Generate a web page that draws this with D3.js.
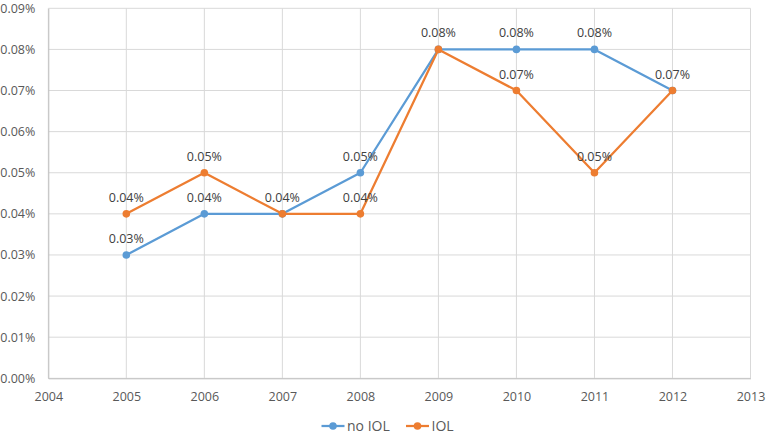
<!DOCTYPE html>
<html><head><meta charset="utf-8">
<script src="https://cdn.jsdelivr.net/npm/d3@7"></script>
<style>body{margin:0;background:#fff;} text{font-family:"Open Sans",sans-serif;}</style>
</head><body><svg id="c" width="767" height="436"></svg>
<script>
const years = [2005, 2006, 2007, 2008, 2009, 2010, 2011, 2012];
const noIOL = [0.0003, 0.0004, 0.0004, 0.0005, 0.0008, 0.0008, 0.0008, 0.0007];
const IOL = [0.0004, 0.0005, 0.0004, 0.0004, 0.0008, 0.0007, 0.0005, 0.0007];
const xTicks = [2004, 2005, 2006, 2007, 2008, 2009, 2010, 2011, 2012, 2013];
const yTicks = [0, 0.0001, 0.0002, 0.0003, 0.0004, 0.0005, 0.0006, 0.0007, 0.0008, 0.0009];
const seriesNames = ["no IOL", "IOL"];
const colors = ["#5B9BD5", "#ED7D31"];

const svg = d3.select("#c");
const L = 48.3, R = 750.5, T = 8.3, B = 378.3;
const x = d3.scaleLinear().domain([2004, 2013]).range([L, R]);
const y = d3.scaleLinear().domain([0, 0.0009]).range([B, T]);
const fmt = d3.format(".2%");
const FS = "12.5px";

// gridlines
svg.append("g").selectAll("line").data(yTicks).join("line")
  .attr("x1", L).attr("x2", R).attr("y1", d => y(d)).attr("y2", d => y(d))
  .attr("stroke", "#D9D9D9").attr("stroke-width", 1);
svg.append("g").selectAll("line").data(xTicks).join("line")
  .attr("y1", T).attr("y2", B).attr("x1", d => x(d)).attr("x2", d => x(d))
  .attr("stroke", "#D9D9D9").attr("stroke-width", 1);

// axes
const yAxis = d3.axisLeft(y).tickValues(yTicks).tickFormat(fmt).tickSize(0).tickPadding(13);
const gy = svg.append("g").attr("transform", `translate(${L},0)`).call(yAxis);
gy.select(".domain").attr("stroke", "#BFBFBF");
gy.selectAll("text").attr("fill", "#595959").style("font-size", FS).style("font-family", "'Open Sans',sans-serif");

const xAxis = d3.axisBottom(x).tickValues(xTicks).tickFormat(d3.format("d")).tickSize(0).tickPadding(13.5);
const gx = svg.append("g").attr("transform", `translate(0,${B})`).call(xAxis);
gx.select(".domain").attr("stroke", "#BFBFBF");
gx.selectAll("text").attr("fill", "#595959").style("font-size", FS).style("font-family", "'Open Sans',sans-serif");

const all = [noIOL, IOL];
const line = d3.line().x((d, i) => x(years[i])).y(d => y(d));
all.forEach((vals, s) => {
  svg.append("path").datum(vals).attr("d", line).attr("fill", "none")
    .attr("stroke", colors[s]).attr("stroke-width", 2.25).attr("stroke-linejoin", "round");
  svg.append("g").selectAll("circle").data(vals).join("circle")
    .attr("cx", (d, i) => x(years[i])).attr("cy", d => y(d)).attr("r", 3.8).attr("fill", colors[s]);
});
// data labels (a label hidden behind an identical one is drawn only once)
all.forEach((vals, s) => {
  const items = vals.map((v, i) => ({v, i})).filter(o => s === 0 || o.v !== noIOL[o.i]);
  svg.append("g").selectAll("text").data(items).join("text")
    .attr("x", o => x(years[o.i])).attr("y", o => y(o.v) - 12)
    .attr("text-anchor", "middle").attr("fill", "#404040").style("font-size", FS)
    .text(o => fmt(o.v));
});

// legend
const legX = [321.5, 406];
seriesNames.forEach((n, s) => {
  const g = svg.append("g").attr("transform", `translate(${legX[s]},426)`);
  g.append("line").attr("x1", 0).attr("x2", 23).attr("stroke", colors[s]).attr("stroke-width", 2.25);
  g.append("circle").attr("cx", 11.5).attr("r", 3.8).attr("fill", colors[s]);
  g.append("text").attr("x", 25.5).attr("dy", "0.35em").attr("fill", "#595959").style("font-size", "14px").text(n);
});
</script></body></html>
